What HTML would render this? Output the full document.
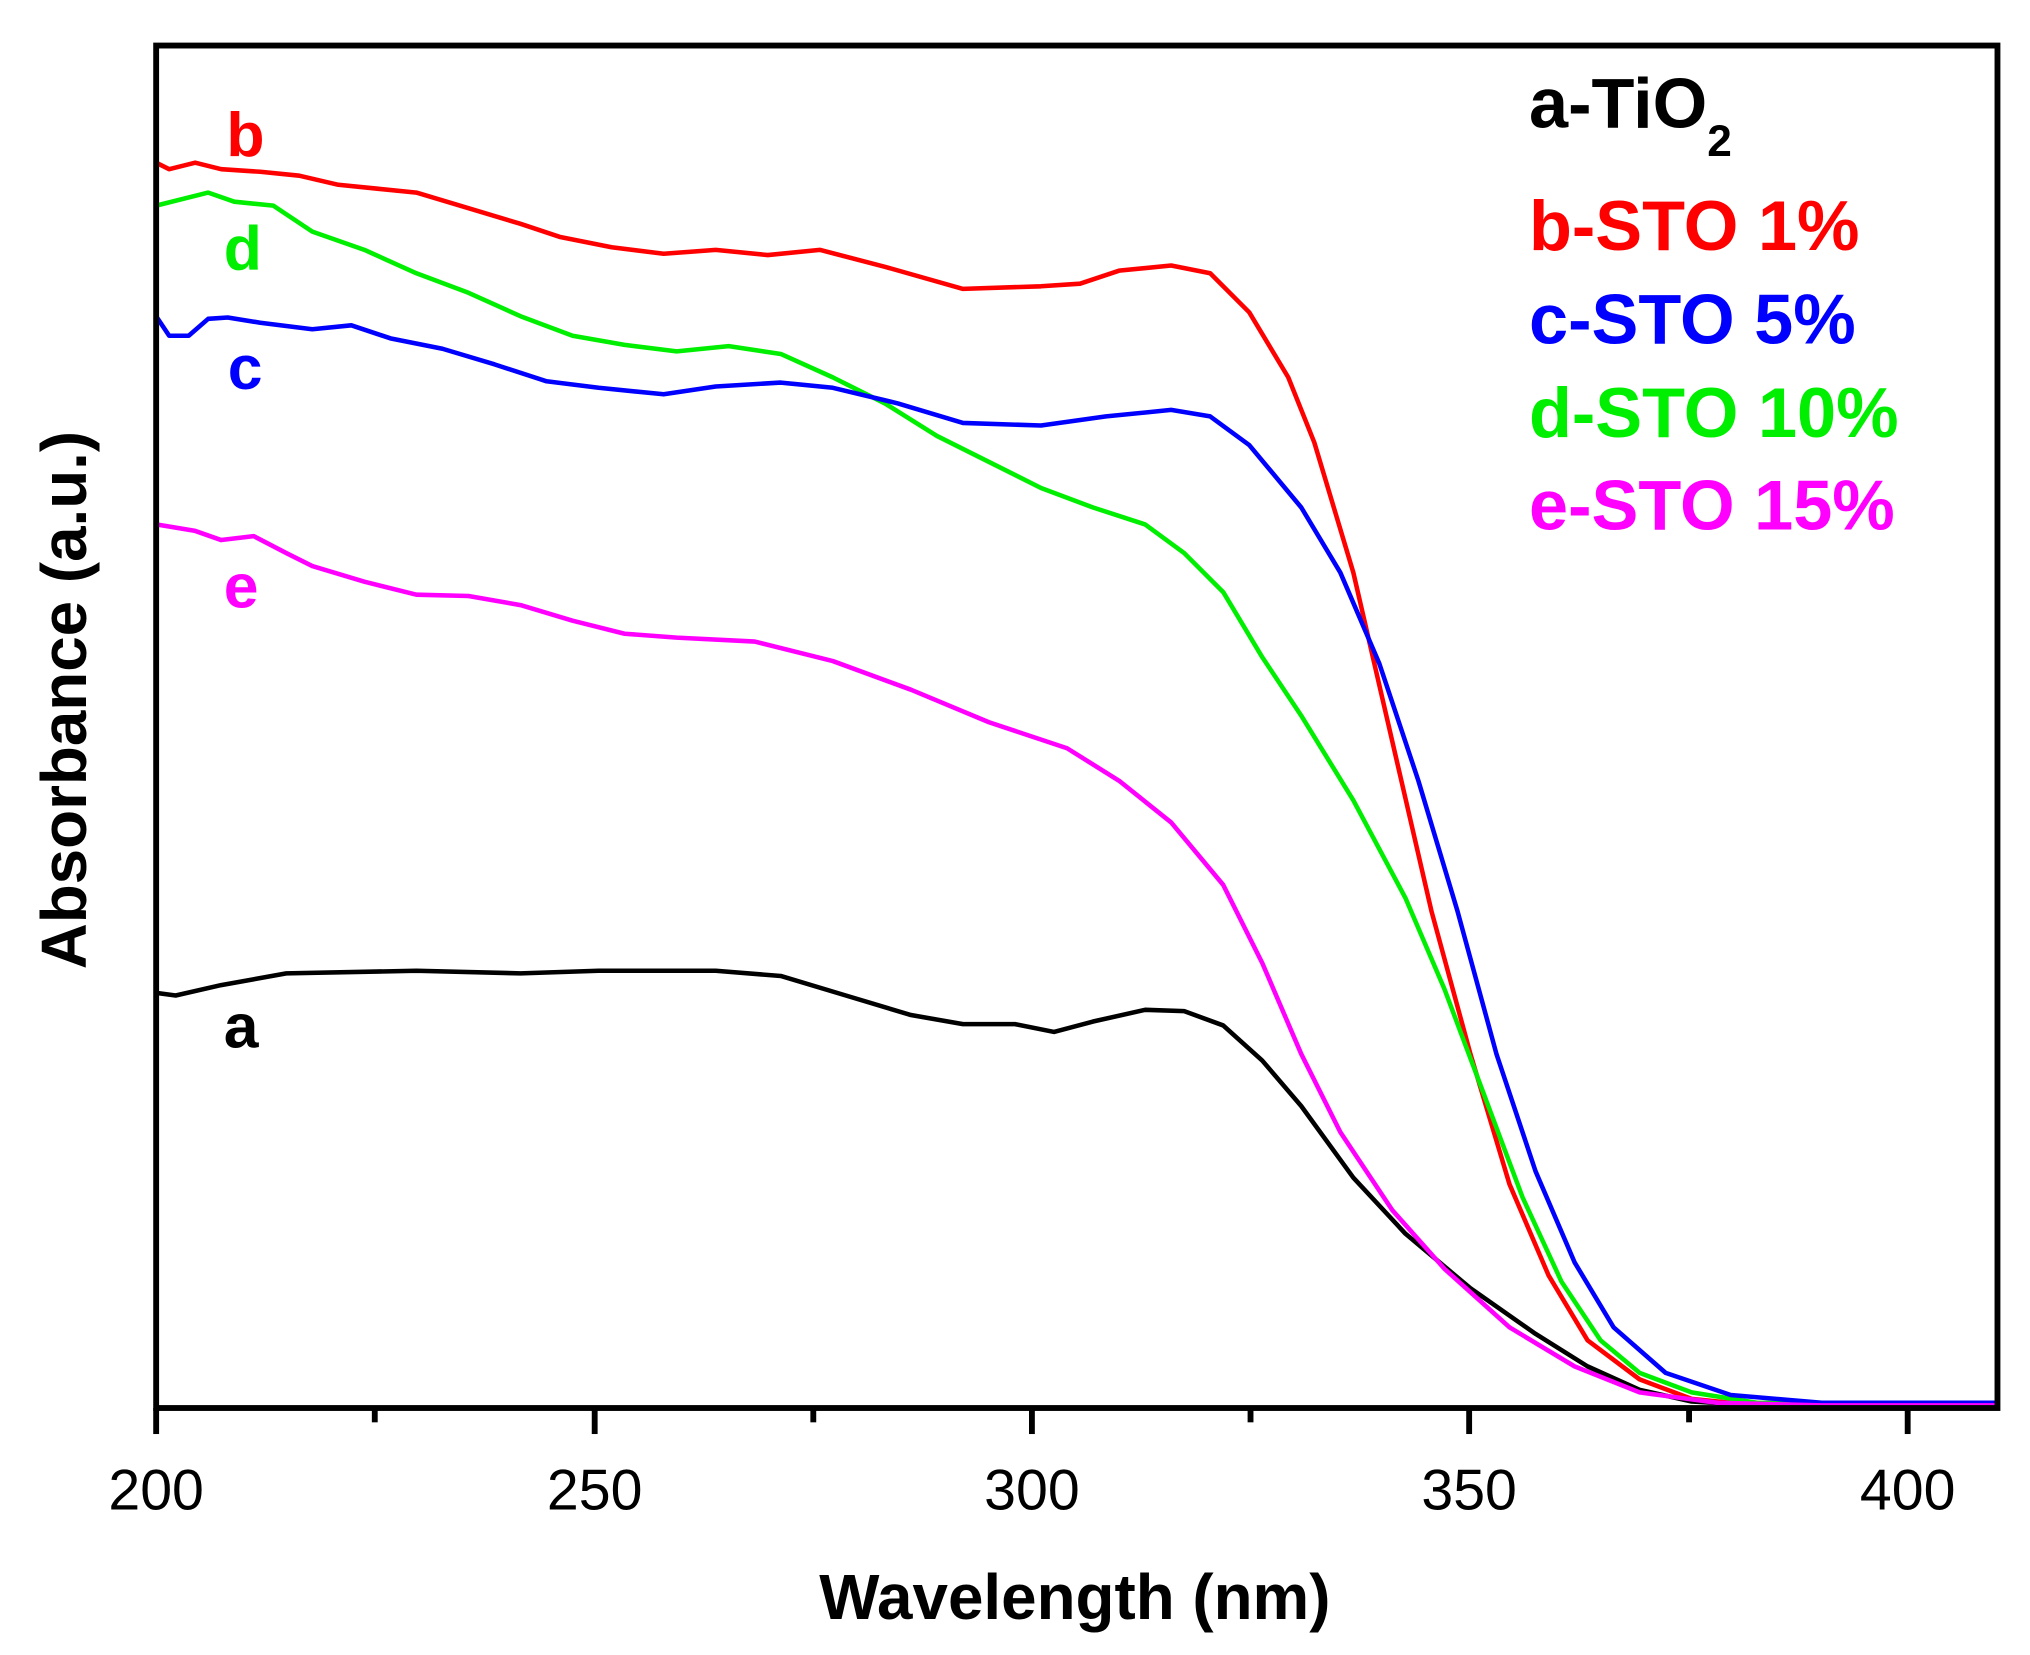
<!DOCTYPE html>
<html><head><meta charset="utf-8"><style>html,body{margin:0;padding:0;background:#fff}svg{display:block}</style></head><body>
<svg width="2030" height="1655" viewBox="0 0 1560 1271.8" preserveAspectRatio="none" xmlns="http://www.w3.org/2000/svg" font-family="Liberation Sans, Arial, sans-serif">
<rect width="1560" height="1272" fill="#fff"/>
<g fill="none" stroke-width="3.5" stroke-linejoin="round" stroke-linecap="round">
<polyline stroke="#000" points="120,763 135,765 170,757 220,748 320,746 400,748 460,746 550,746 600,750 650,765 700,780 740,787 780,787 810,793 840,785 880,776 910,777 940,788 970,815 1000,850 1040,905 1080,948 1130,990 1180,1025 1220,1050 1260,1068 1300,1077 1350,1080 1535,1080"/>
<polyline stroke="#ff0000" points="120,125 130,130 150,125 170,130 200,132 230,135 260,142 290,145 320,148 360,160 400,172 430,182 470,190 510,195 550,192 590,196 630,192 680,205 740,222 800,220 830,218 860,208 900,204 930,210 960,240 990,290 1010,340 1040,440 1070,570 1100,700 1130,810 1160,910 1190,980 1220,1030 1260,1060 1300,1075 1350,1080 1535,1080"/>
<polyline stroke="#00ee00" points="120,158 160,148 180,155 210,158 240,178 280,192 320,210 360,225 400,243 440,258 480,265 520,270 560,266 600,272 640,290 680,310 720,335 760,355 800,375 840,390 880,403 910,425 940,455 970,505 1000,550 1040,615 1080,690 1110,760 1140,840 1170,920 1200,985 1230,1030 1260,1055 1300,1070 1350,1078 1535,1080"/>
<polyline stroke="#0000ff" points="120,243 130,258 145,258 160,245 175,244 200,248 240,253 270,250 300,260 340,268 380,280 420,293 460,298 510,303 550,297 600,294 640,298 690,310 740,325 800,327 850,320 900,315 930,320 960,342 1000,390 1030,440 1060,510 1090,600 1120,700 1150,810 1180,900 1210,970 1240,1020 1280,1055 1330,1072 1400,1078 1535,1078"/>
<polyline stroke="#ff00ff" points="120,403 150,408 170,415 195,412 220,425 240,435 280,447 320,457 360,458 400,465 440,477 480,487 520,490 580,493 640,508 700,530 760,555 820,575 860,600 900,632 940,680 970,740 1000,810 1030,870 1070,930 1110,975 1160,1020 1210,1050 1260,1070 1320,1078 1400,1080 1535,1080"/>
</g>
<rect x="120" y="35" width="1415" height="1047" fill="none" stroke="#000" stroke-width="4.5"/>
<g stroke="#000" stroke-width="4.5">
<line x1="120" y1="1082" x2="120" y2="1102"/><line x1="457" y1="1082" x2="457" y2="1102"/><line x1="793" y1="1082" x2="793" y2="1102"/><line x1="1129" y1="1082" x2="1129" y2="1102"/><line x1="1466" y1="1082" x2="1466" y2="1102"/>
<line x1="288" y1="1082" x2="288" y2="1093"/><line x1="625" y1="1082" x2="625" y2="1093"/><line x1="961" y1="1082" x2="961" y2="1093"/><line x1="1298" y1="1082" x2="1298" y2="1093"/>
</g>
<g font-size="44" text-anchor="middle" fill="#000">
<text x="120" y="1160">200</text><text x="457" y="1160">250</text><text x="793" y="1160">300</text><text x="1129" y="1160">350</text><text x="1466" y="1160">400</text>
</g>
<text x="826" y="1244" font-size="49" font-weight="bold" text-anchor="middle">Wavelength (nm)</text>
<text transform="translate(66,538) rotate(-90)" font-size="49" font-weight="bold" text-anchor="middle">Absorbance (a.u.)</text>
<g font-size="48" font-weight="bold">
<text x="174" y="120" fill="#ff0000">b</text>
<text x="172" y="207" fill="#00ee00">d</text>
<text x="175" y="299" fill="#0000ff">c</text>
<text x="172" y="467" fill="#ff00ff">e</text>
<text x="172" y="805" fill="#000">a</text>
</g>
<g font-size="54" font-weight="bold">
<text x="1175" y="98" fill="#000">a-TiO<tspan font-size="34" dy="22">2</tspan></text>
<text x="1175" y="192" fill="#ff0000">b-STO 1%</text>
<text x="1175" y="264" fill="#0000ff">c-STO 5%</text>
<text x="1175" y="336" fill="#00ee00">d-STO 10%</text>
<text x="1175" y="407" fill="#ff00ff">e-STO 15%</text>
</g>
</svg>
</body></html>
